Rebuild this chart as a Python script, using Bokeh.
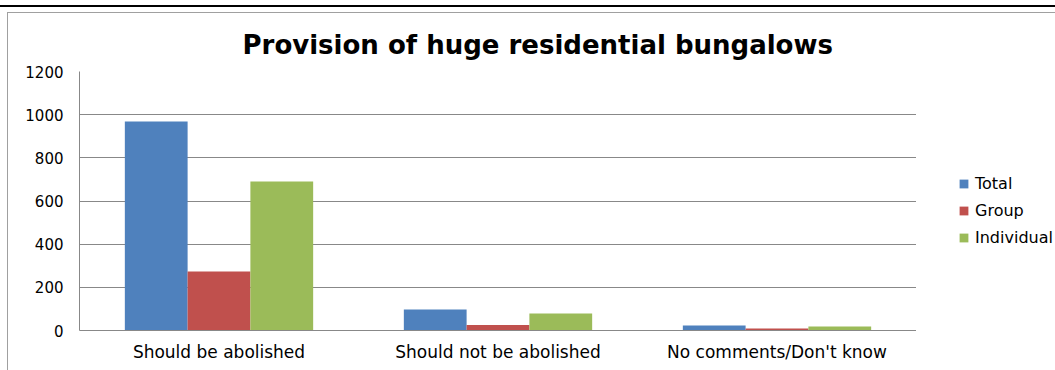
from bokeh.plotting import figure
from bokeh.layouts import row
from bokeh.models import FactorRange, Range1d, Legend, LegendItem, ColumnDataSource
from bokeh.transform import dodge
from bokeh.embed import file_html
from bokeh.resources import INLINE

categories = ["Should be abolished", "Should not be abolished", "No comments/Don't know"]
total = [968, 97, 23]
group = [273, 25, 9]
individual = [690, 79, 19]
series_names = ["Total", "Group", "Individual"]
colors = ["#4F81BD", "#C0504D", "#9BBB59"]
y_ticks = [0, 200, 400, 600, 800, 1000, 1200]

source = ColumnDataSource(data=dict(cat=categories, Total=total, Group=group, Individual=individual))

shadow = ("inset 0 5px 0 0 #ffffff, inset 0 7px 0 0 #000000, inset 0 12px 0 0 #ffffff, "
          "inset 7px 0 0 0 #ffffff, inset 8px 13px 0 0 #a0a0a0")

p = figure(
    width=916, height=370,
    x_range=FactorRange(*categories), y_range=Range1d(0, 1200),
    output_backend="svg", toolbar_location=None,
    min_border_left=79, min_border_right=0, min_border_top=71, min_border_bottom=40,
    border_fill_color=None, background_fill_color=None,
)
p.outline_line_color = None

offsets = [-0.225, 0.0, 0.225]
for name, col, off in zip(series_names, colors, offsets):
    p.vbar(x=dodge("cat", off, range=p.x_range), top=name, width=0.225,
           source=source, fill_color=col, line_color=None)

p.title.text = "Provision of huge residential bungalows"
p.title.text_font = "DejaVu Sans"
p.title.text_font_style = "bold"
p.title.text_font_size = "26px"
p.title.align = "left"
p.title.offset = 163
p.title.standoff = 24
p.title.text_color = "#000000"

p.xgrid.grid_line_color = None
p.ygrid.grid_line_color = "#888888"
p.ygrid.grid_line_width = 1
p.yaxis.ticker = y_ticks

for ax in (p.xaxis, p.yaxis):
    ax.axis_line_color = "#888888"
    ax.major_tick_line_color = None
    ax.minor_tick_line_color = None
    ax.major_tick_out = 0
    ax.major_tick_in = 0
    ax.major_label_text_font = "DejaVu Sans"
    ax.major_label_text_color = "#000000"

p.yaxis.major_label_text_font_size = "15px"
p.yaxis.major_label_standoff = 16
p.xaxis.major_label_text_font_size = "17px"
p.xaxis.major_label_standoff = 11

# legend panel (separate figure to the right of the plot area)
q = figure(
    width=139, height=370,
    x_range=FactorRange(*categories), y_range=Range1d(0, 1200),
    output_backend="svg", toolbar_location=None,
    min_border_left=0, min_border_right=0, min_border_top=0, min_border_bottom=0,
    border_fill_color=None, background_fill_color=None,
)
q.outline_line_color = None
q.axis.visible = False
q.grid.visible = False
legend_renderers = []
for name, col, off in zip(series_names, colors, offsets):
    r = q.vbar(x=dodge("cat", off, range=q.x_range), top=name, width=0.225,
               source=source, fill_color=col, line_color=None, visible=False)
    legend_renderers.append(r)

legend = Legend(items=[LegendItem(label=n, renderers=[r]) for n, r in zip(series_names, legend_renderers)],
                location=(42, 83), orientation="vertical")
legend.border_line_color = None
legend.background_fill_color = None
legend.padding = 0
legend.margin = 0
legend.spacing = 7
legend.glyph_width = 11
legend.glyph_height = 11
legend.label_height = 20
legend.label_standoff = 6
legend.label_text_font = "DejaVu Sans"
legend.label_text_font_size = "16px"
legend.label_text_color = "#000000"
q.add_layout(legend, "center")

layout = row(p, q, styles={"box-shadow": shadow})

open("out.html", "w").write(file_html(layout, INLINE))
